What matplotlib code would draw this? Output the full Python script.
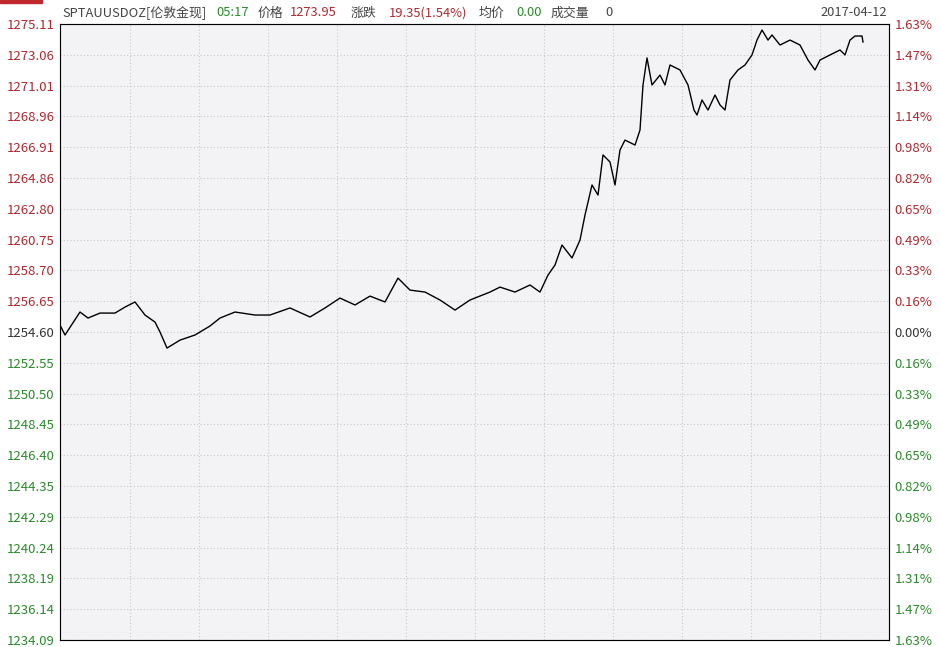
import matplotlib.pyplot as plt
import numpy as np

plt.rcParams['font.family'] = ['Noto Sans CJK SC', 'DejaVu Sans']

# 时间序号 (分钟位置) 与价格
t = [0, 5, 20, 28, 40, 55, 65, 75, 85, 95, 100, 107, 120, 135, 150, 160, 175, 195, 210,
     230, 250, 265, 280, 295, 310, 325, 338, 350, 365, 380, 395, 410, 430, 440, 455, 470,
     480, 488, 495, 502, 512, 520, 525, 532, 538, 543, 550, 555, 560, 565, 575, 580, 583,
     587, 592, 600, 605, 610, 620, 628, 634, 637, 642, 648, 655, 660, 665, 670, 678, 685,
     692, 697, 702, 708, 712, 720, 730, 740, 748, 755, 760, 770, 780, 785, 790, 795, 802, 803]
price = [1255.06, 1254.40, 1255.93, 1255.53, 1255.86, 1255.86, 1256.26, 1256.60, 1255.73,
         1255.26, 1254.60, 1253.53, 1254.06, 1254.40, 1255.00, 1255.53, 1255.93, 1255.73,
         1255.73, 1256.20, 1255.60, 1256.20, 1256.86, 1256.40, 1256.99, 1256.60, 1258.19,
         1257.39, 1257.26, 1256.73, 1256.06, 1256.73, 1257.26, 1257.59, 1257.26, 1257.73,
         1257.26, 1258.39, 1259.06, 1260.39, 1259.53, 1260.72, 1262.39, 1264.39, 1263.72,
         1266.39, 1265.92, 1264.39, 1266.72, 1267.38, 1267.05, 1268.05, 1271.05, 1272.85,
         1271.05, 1271.71, 1271.05, 1272.38, 1272.05, 1271.05, 1269.38, 1269.05, 1270.05,
         1269.38, 1270.38, 1269.72, 1269.38, 1271.38, 1272.05, 1272.38, 1273.05, 1274.04,
         1274.71, 1274.04, 1274.38, 1273.71, 1274.04, 1273.71, 1272.71, 1272.05, 1272.71,
         1273.05, 1273.38, 1273.05, 1274.04, 1274.31, 1274.31, 1273.91]

base = 1254.60
left_ticks = [1275.11, 1273.06, 1271.01, 1268.96, 1266.91, 1264.86, 1262.80, 1260.75,
              1258.70, 1256.65, 1254.60, 1252.55, 1250.50, 1248.45, 1246.40, 1244.35,
              1242.29, 1240.24, 1238.19, 1236.14, 1234.09]
pct = ['1.63%', '1.47%', '1.31%', '1.14%', '0.98%', '0.82%', '0.65%', '0.49%', '0.33%',
       '0.16%', '0.00%', '0.16%', '0.33%', '0.49%', '0.65%', '0.82%', '0.98%', '1.14%',
       '1.31%', '1.47%', '1.63%']

red = '#b0282e'
green = '#2a8a2a'

fig = plt.figure(figsize=(9.4, 6.47), dpi=100)
ax = fig.add_axes([60 / 940, 1 - 640 / 647, 829 / 940, 616 / 647])
ax.set_facecolor('#f3f3f5')
ax.plot(t, price, color='black', lw=1.0)
ax.set_xlim(0, 829)
ax.set_ylim(1234.09, 1275.11)

ax.set_xticks([70 + 69 * i for i in range(11)])
ax.set_xticklabels([])
ax.set_yticks(left_ticks)
ax.set_yticklabels([f'{v:.2f}' for v in left_ticks], fontsize=9.5)
ax.tick_params(length=0, pad=4)
for lab, v in zip(ax.get_yticklabels(), left_ticks):
    lab.set_color(red if v > base else (green if v < base else '#333333'))
ax.grid(True, color='#c8c8c8', ls=(0, (1, 2)), lw=0.8)
for s in ax.spines.values():
    s.set_color('#888888')

ax2 = ax.twinx()
ax2.set_ylim(1234.09, 1275.11)
ax2.set_yticks(left_ticks)
ax2.set_yticklabels(pct, fontsize=9.5)
ax2.tick_params(length=0, pad=4)
for lab, v in zip(ax2.get_yticklabels(), left_ticks):
    lab.set_color(red if v > base else (green if v < base else '#333333'))

# 顶部标题
y0 = 1 - 13 / 647
items = [('SPTAUUSDOZ[伦敦金现]', '#444444', 62), ('05:17', green, 216), ('价格', '#444444', 257),
         ('1273.95', red, 290), ('涨跌', '#444444', 351), ('19.35(1.54%)', red, 389),
         ('均价', '#444444', 479), ('0.00', green, 516), ('成交量', '#444444', 551),
         ('0', '#444444', 605), ('2017-04-12', '#444444', 820)]
for txt, c, x in items:
    fig.text(x / 940, y0, txt, color=c, fontsize=9.3, va='center')
fig.patches.append(plt.Rectangle((0, 1 - 3 / 647), 42 / 940, 3 / 647, color='#c0282e',
                                 transform=fig.transFigure))

fig.savefig('out.png', dpi=100)
